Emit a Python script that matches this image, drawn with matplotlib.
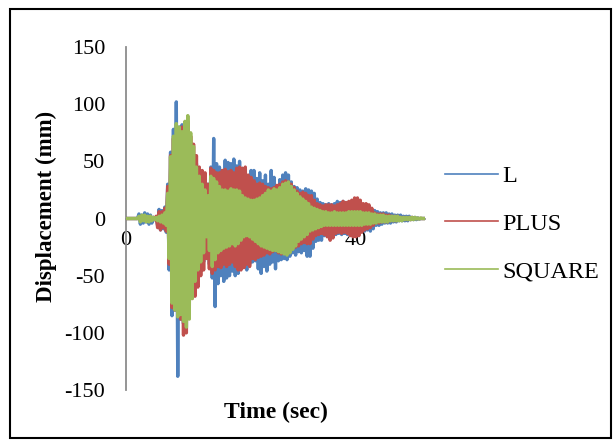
import numpy as np
import matplotlib
matplotlib.use("Agg")
import matplotlib.pyplot as plt
from matplotlib.lines import Line2D
from matplotlib.patches import Rectangle

plt.rcParams["font.family"] = ["Liberation Serif", "DejaVu Serif"]
plt.rcParams["axes.unicode_minus"] = False

# displacement records, one value every dt seconds (peaks)
dt = 0.25

disp_l = [
    0, 0, 0, 0, 0, 0, 0, 0,
    0, 4, -5, 3, -4, 5, -3, 4,
    -5, 3, -4, 1, -1, 1, -6, 8,
    -10, 7, -9, 10, -12, 30, -45, 58,
    -85, 78, -80, 102, -138, 80, -88, 82,
    -92, 84, -96, 80, -82, 66, -64, 56,
    -60, 48, -50, 44, -45, 36, -38, 33,
    -34, 30, -40, 45, -52, 70, -77, 48,
    -57, 45, -50, 42, -55, 51, -52, 49,
    -50, 48, -46, 52, -50, 46, -48, 50,
    -44, 40, -42, 38, -45, 36, -40, 42,
    -38, 42, -37, 35, -44, 40, -48, 33,
    -42, 38, -46, 30, -40, 42, -38, 36,
    -44, 28, -37, 34, -36, 38, -35, 40,
    -36, 38, -33, 32, -30, 28, -32, 27,
    -29, 25, -30, 24, -28, 26, -33, 25,
    -33, 24, -26, 22, -20, 17, -19, 14,
    -19, 13, -15, 12, -14, 13, -13, 12,
    -15, 13, -14, 15, -13, 14, -14, 15,
    -13, 14, -14, 12, -13, 13, -14, 12,
    -14, 13, -12, 12, -11, 10, -11, 11,
    -10, 11, -11, 8, -9, 7, -6, 6,
    -6, 5, -5, 5, -4, 5, -4, 4,
    -4, 4, -3, 3, -3, 3, -2, 3,
    -2, 2, -2, 2, -2, 2, -1, 1,
    -1, 1, -1, 0.5, -0.5, 0, 0, 0,
    0,
]

disp_plus = [
    0, 0, 0, 0, 0, 0, 0, 0,
    0, 1, -1, 1, -1, 1, -1, 1,
    -1, 1, -1, 1, -1, 2, -8, 6,
    -10, 6, -8, 9, -11, 28, -40, 55,
    -78, 70, -80, 72, -82, 78, -88, 80,
    -102, 84, -100, 85, -77, 72, -70, 65,
    -68, 55, -60, 45, -50, 42, -45, 40,
    -35, 30, -44, 44, -48, 42, -45, 40,
    -42, 40, -43, 42, -40, 43, -42, 41,
    -40, 42, -38, 40, -42, 44, -45, 45,
    -45, 44, -43, 45, -40, 38, -42, 36,
    -35, 33, -36, 30, -34, 31, -33, 30,
    -32, 28, -30, 27, -31, 26, -29, 27,
    -28, 29, -30, 30, -31, 32, -30, 33,
    -31, 32, -28, 30, -26, 27, -25, 24,
    -24, 22, -22, 23, -21, 22, -22, 20,
    -22, 20, -18, 16, -15, 13, -14, 12,
    -13, 11, -14, 12, -16, 12, -19, 12,
    -17, 11, -13, 12, -12, 13, -13, 15,
    -12, 14, -13, 15, -15, 16, -16, 18,
    -16, 18, -15, 16, -12, 13, -10, 13,
    -9, 12, -8, 9, -6, 5, -4, 4,
    -4, 4, -3, 4, -3, 3, -3, 3,
    -2, 2, -2, 2, -2, 2, -1, 1,
    -1, 1, -1, 1, -1, 1, -1, 1,
    -0.5, 0.5, 0, 0, 0, 0, 0, 0,
    0,
]

disp_square = [
    0, 0, 0, 0, 0, 0, 0, 0,
    0, 2, -3, 3, -2, 3, -3, 2,
    -3, 2, -2, 1, -1, 1, -2, 2,
    -3, 3, -4, 5, -6, 22, -35, 54,
    -74, 72, -80, 83, -86, 80, -84, 76,
    -90, 85, -95, 90, -88, 75, -70, 63,
    -55, 45, -45, 37, -38, 30, -30, 25,
    -16, 20, -28, 37, -42, 35, -36, 32,
    -30, 28, -28, 25, -26, 25, -25, 24,
    -24, 26, -22, 25, -24, 25, -22, 24,
    -19, 20, -16, 18, -15, 17, -16, 16,
    -18, 16, -20, 17, -22, 18, -24, 20,
    -25, 22, -26, 25, -27, 24, -28, 26,
    -28, 25, -29, 27, -30, 30, -31, 31,
    -32, 32, -30, 28, -27, 25, -24, 22,
    -20, 19, -18, 17, -16, 15, -14, 13,
    -11, 10, -10, 9, -9, 8, -8, 7,
    -7, 6, -6, 6, -6, 5, -6, 5,
    -6, 6, -6, 5, -6, 5, -6, 5,
    -6, 5, -6, 6, -6, 6, -6, 6,
    -6, 6, -6, 6, -6, 5, -5, 5,
    -5, 5, -5, 4, -4, 4, -4, 3,
    -3, 3, -3, 3, -3, 2, -3, 2,
    -2, 2, -2, 2, -2, 2, -2, 1,
    -2, 1, -1, 1, -1, 1, -1, 1,
    -1, 1, -0.5, 0.5, -0.5, 0.5, 0, 0,
    0,
]

series_names = ["L", "PLUS", "SQUARE"]
series_colors = ["#4F81BD", "#C0504D", "#9BBB59"]
x_ticks = [0, 20, 40]
y_ticks = [-150, -100, -50, 0, 50, 100, 150]

time = np.arange(len(disp_l)) * dt

fig = plt.figure(figsize=(6.14, 4.41), dpi=100)
ax = fig.add_axes([0.2052, 0.1156, 0.4870, 0.7778])

for name, values, color in zip(series_names, [disp_l, disp_plus, disp_square], series_colors):
    # thick strokes so the dense oscillation reads as a filled band
    ax.plot(time, values, color=color, lw=2.4, label=name, zorder=3)

ax.set_xlim(0, 52)
ax.set_ylim(-150, 150)
ax.set_xticks(x_ticks)
ax.set_yticks(y_ticks)

for side in ["top", "right"]:
    ax.spines[side].set_visible(False)
ax.spines["bottom"].set_position(("data", 0))
for side in ["bottom", "left"]:
    ax.spines[side].set_color("#8c8c8c")
    ax.spines[side].set_linewidth(1.3)

ax.tick_params(axis="both", length=0, labelsize=16)
ax.tick_params(axis="y", pad=15)
ax.tick_params(axis="x", pad=9)

ax.set_xlabel("Time (sec)", fontsize=17, fontweight="bold")
ax.xaxis.set_label_coords(0.5, -0.035)
ax.set_ylabel("Displacement (mm)", fontsize=16.5, fontweight="bold")
ax.yaxis.set_label_coords(-0.232, 0.535)

# thin legend keys, like the original
legend_keys = [Line2D([], [], color=c, lw=1.2) for c in series_colors]
ax.legend(legend_keys, series_names, loc="center left", bbox_to_anchor=(0.993, 0.485),
          frameon=False, fontsize=17.5, handlelength=2.2, handletextpad=0.15,
          labelspacing=1.05)

fig.add_artist(Rectangle((10 / 614, 3 / 441), 601 / 614, 429 / 441,
                         transform=fig.transFigure, fill=False,
                         edgecolor="black", linewidth=1.5))

fig.savefig("out.png", dpi=100)
